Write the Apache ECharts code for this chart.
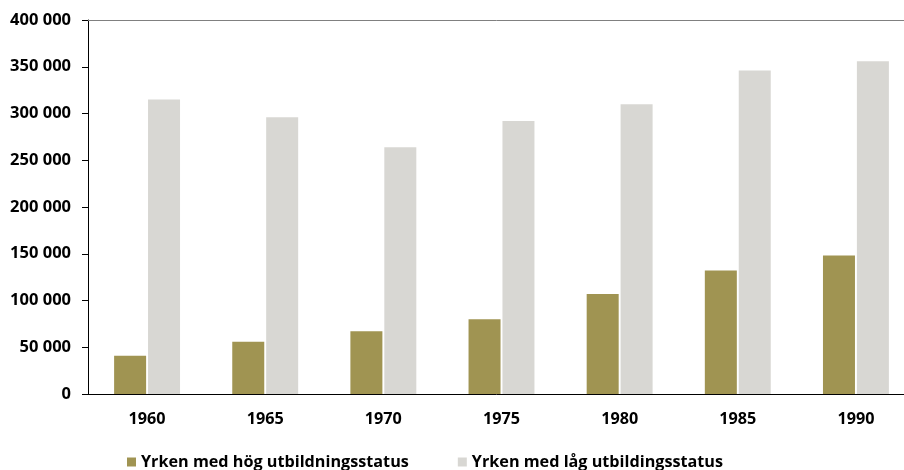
<!DOCTYPE html>
<html><head><meta charset="utf-8">
<script src="https://cdn.jsdelivr.net/npm/echarts@6/dist/echarts.min.js"></script>
<style>html,body{margin:0;padding:0;background:#fff}#c{width:904px;height:470px}</style>
</head><body><div id="c"></div>
<script>
const years = ['1960','1965','1970','1975','1980','1985','1990'];
const hogStatus = [41000, 56000, 67000, 80000, 107000, 132000, 148000];
const lagStatus = [315000, 296000, 264000, 292000, 310000, 346000, 356000];
const seriesNames = ['Yrken med hög utbildningsstatus', 'Yrken med låg utbildingsstatus'];

const font = '"Open Sans", "Noto Sans", sans-serif';
const chart = echarts.init(document.getElementById('c'));
chart.setOption({
  animation: false,
  textStyle: { fontFamily: font },
  grid: { left: 88, top: 20, width: 827, bottom: 76, outerBoundsMode: 'none', containLabel: false },
  legend: {
    left: 127, top: 453, itemWidth: 9, itemHeight: 9, itemGap: 49, padding: 0,
    icon: 'rect',
    textStyle: { fontFamily: font, fontWeight: 'bold', fontSize: 16.2, lineHeight: 18, color: '#000', padding: [0,0,0,0] },
    data: seriesNames
  },
  xAxis: [{
    type: 'category', data: years,
    axisLine: { lineStyle: { color: '#000', width: 1 } },
    axisTick: { alignWithLabel: false, length: 5, lineStyle: { color: '#000' } },
    axisLabel: { color: '#000', fontWeight: 'bold', fontSize: 16.2, margin: 17, fontFamily: font }
  }, {
    type: 'category', data: years, position: 'top',
    axisLine: { lineStyle: { color: '#808080', width: 1 } },
    axisTick: { show: false }, axisLabel: { show: false }
  }],
  yAxis: {
    type: 'value', min: 0, max: 400000, interval: 50000,
    axisLine: { show: true, lineStyle: { color: '#000' } },
    axisTick: { show: true, length: 6, lineStyle: { color: '#000' } },
    splitLine: { show: false },
    axisLabel: {
      color: '#000', fontWeight: 'bold', fontSize: 16.5, margin: 17, fontFamily: font,
      formatter: v => String(v).replace(/\B(?=(\d{3})+(?!\d))/g, ' ')
    }
  },
  series: [
    { name: seriesNames[0], type: 'bar', data: hogStatus, barWidth: 32, barGap: '6%',
      itemStyle: { color: '#A09452' } },
    { name: seriesNames[1], type: 'bar', data: lagStatus, barWidth: 32,
      itemStyle: { color: '#D8D7D3' } }
  ]
});
</script></body></html>
